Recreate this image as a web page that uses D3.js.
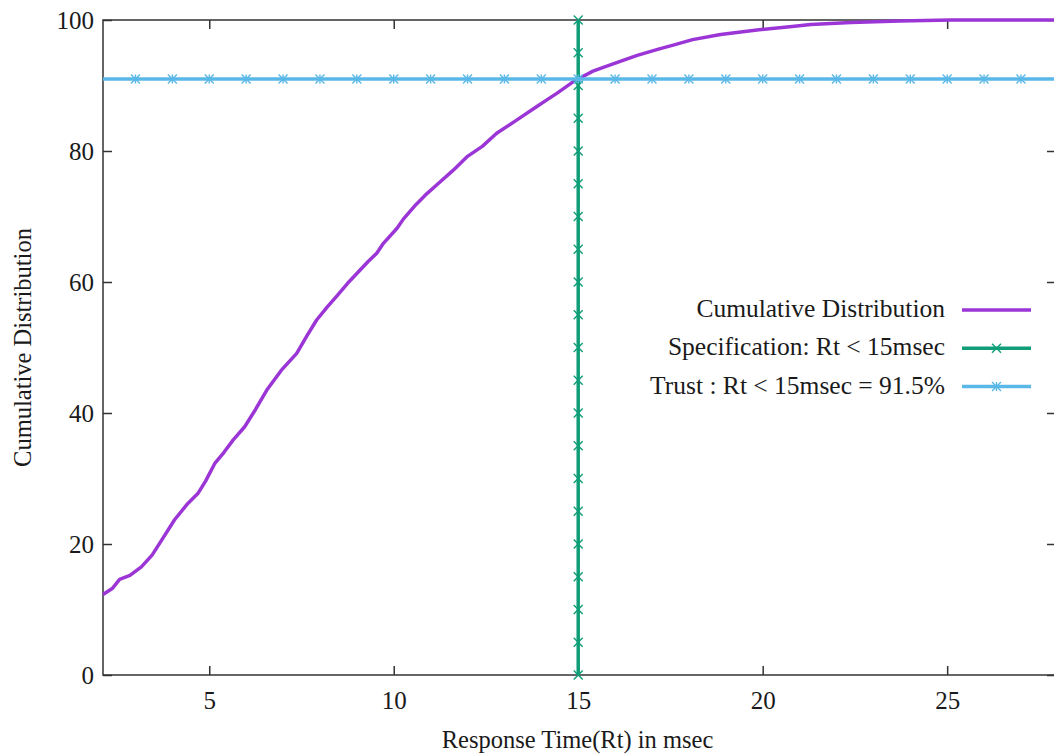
<!DOCTYPE html>
<meta charset="utf-8">
<style>
  body { margin: 0; background: #fff; }
  svg { display: block; font-family: "Liberation Serif", "DejaVu Serif", serif; }
  .tick text { font-size: 25px; fill: #1a1a1a; font-family: "Liberation Serif", serif; }
  .tick line { stroke: #333; stroke-width: 1.5; }
</style>
<body>
<div id="chart"></div>
<script src="https://d3js.org/d3.v7.min.js"></script>
<script>

// response time (msec) and cumulative share (%)
var rtMsec = [2.12, 2.37, 2.57, 2.85, 3.16, 3.45, 3.71, 4.06, 4.42, 4.69, 4.9, 5.15, 5.4,
  5.65, 5.96, 6.25, 6.56, 6.95, 7.37, 7.65, 7.91, 8.2, 8.45, 8.75, 9.0, 9.3, 9.54, 9.72,
  10.09, 10.26, 10.6, 10.9, 11.2, 11.6, 11.98, 12.4, 12.79, 13.3, 13.88, 14.15, 14.42,
  14.87, 15.1, 15.4, 15.7, 16.1, 16.6, 17.2, 17.6, 18.1, 18.86, 19.9, 20.8, 21.3, 22.4,
  23.7, 25.1, 27.95];
var cumPct = [12.3, 13.2, 14.6, 15.2, 16.5, 18.3, 20.6, 23.7, 26.2, 27.7, 29.6, 32.3, 34.0,
  35.9, 37.9, 40.5, 43.5, 46.5, 49.1, 51.8, 54.2, 56.2, 57.8, 59.8, 61.3, 63.1, 64.4, 65.9,
  68.2, 69.6, 71.8, 73.5, 75.0, 77.0, 79.1, 80.7, 82.7, 84.6, 86.8, 87.8, 88.8,
  90.6, 91.3, 92.2, 92.8, 93.6, 94.6, 95.6, 96.2, 97.0, 97.8, 98.5, 99.0, 99.3, 99.6,
  99.85, 100, 100];

var specRt = 15;                       // Rt < 15 msec
var specMarks = d3.range(0, 101, 5);   // points along the spec line
var trustPct = 91;                     // where the trust line sits
var trustMarks = d3.range(3, 28, 1);   // points along the trust line

var xDomain = [2.12, 27.95];
var yDomain = [0, 100];
var xTicks = [5, 10, 15, 20, 25];
var yTicks = [0, 20, 40, 60, 80, 100];

var legendLabels = ["Cumulative Distribution", "Specification: Rt < 15msec", "Trust : Rt < 15msec = 91.5%"];
var colors = ["#9b35d6", "#0f9e78", "#5ab8e8"];

var W = 1054, H = 756;
var margin = {top: 20, right: -2, bottom: 81, left: 103};
var width = W - margin.left - margin.right,
    height = H - margin.top - margin.bottom;

var svg = d3.select("#chart").append("svg")
    .attr("width", W)
    .attr("height", H)
  .append("g")
    .attr("transform", "translate(" + margin.left + "," + margin.top + ")");

var x = d3.scaleLinear().domain(xDomain).range([0, width]);
var y = d3.scaleLinear().domain(yDomain).range([height, 0]);

// axes, ticks pointing inward on all four sides
svg.append("g")
  .attr("transform", "translate(0," + height + ")")
  .call(d3.axisBottom(x).tickValues(xTicks).tickSize(-9).tickPadding(16))
  .select(".domain").remove();
svg.append("g")
  .call(d3.axisTop(x).tickValues(xTicks).tickSize(-9).tickFormat(""))
  .select(".domain").remove();
svg.append("g")
  .call(d3.axisLeft(y).tickValues(yTicks).tickSize(-9).tickPadding(9))
  .select(".domain").remove();
svg.append("g")
  .attr("transform", "translate(" + width + ",0)")
  .call(d3.axisRight(y).tickValues(yTicks).tickSize(-9).tickFormat(""))
  .select(".domain").remove();

svg.append("rect")
  .attr("width", width)
  .attr("height", height)
  .attr("fill", "none")
  .attr("stroke", "#333")
  .attr("stroke-width", 1.5);

// axis titles
svg.append("text")
  .attr("x", (x(xDomain[0]) + x(xDomain[1])) / 2 - 2)
  .attr("y", height + 73)
  .attr("text-anchor", "middle")
  .style("font-size", "24.5px")
  .style("fill", "#1a1a1a")
  .text("Response Time(Rt) in msec");

svg.append("text")
  .attr("transform", "translate(" + (-72) + "," + (height / 2) + ") rotate(-90)")
  .attr("text-anchor", "middle")
  .style("font-size", "24.5px")
  .style("fill", "#1a1a1a")
  .text("Cumulative Distribution");

// marker shapes: gnuplot style "x" and "*"
function cross(g, cx, cy, r, col) {
  g.append("path")
    .attr("d", "M" + (cx - r) + "," + (cy - r) + "L" + (cx + r) + "," + (cy + r) +
               "M" + (cx - r) + "," + (cy + r) + "L" + (cx + r) + "," + (cy - r))
    .attr("stroke", col).attr("stroke-width", 1.4).attr("fill", "none");
}
function star(g, cx, cy, r, col) {
  cross(g, cx, cy, r, col);
  g.append("path")
    .attr("d", "M" + (cx - r) + "," + cy + "L" + (cx + r) + "," + cy +
               "M" + cx + "," + (cy - r) + "L" + cx + "," + (cy + r))
    .attr("stroke", col).attr("stroke-width", 1.4).attr("fill", "none");
}

var plot = svg.append("g");

// cumulative curve
var curve = rtMsec.map(function(d, i) { return [d, cumPct[i]]; });
plot.append("path")
  .datum(curve)
  .attr("fill", "none")
  .attr("stroke", colors[0])
  .attr("stroke-width", 3.5)
  .attr("stroke-linejoin", "round")
  .attr("d", d3.line().x(function(d) { return x(d[0]); }).y(function(d) { return y(d[1]); }));

// specification line
plot.append("line")
  .attr("x1", x(specRt)).attr("x2", x(specRt))
  .attr("y1", y(0)).attr("y2", y(100))
  .attr("stroke", colors[1]).attr("stroke-width", 3.5);
specMarks.forEach(function(v) { cross(plot, x(specRt), y(v), 4.5, colors[1]); });

// trust line
plot.append("line")
  .attr("x1", 0).attr("x2", width)
  .attr("y1", y(trustPct)).attr("y2", y(trustPct))
  .attr("stroke", colors[2]).attr("stroke-width", 3.5);
trustMarks.forEach(function(v) { star(plot, x(v), y(trustPct), 4.5, colors[2]); });

// legend
var legend = svg.append("g").attr("transform", "translate(" + (945 - margin.left) + "," + (310 - margin.top) + ")");
legendLabels.forEach(function(lab, i) {
  var row = legend.append("g").attr("transform", "translate(0," + (i * 38.3) + ")");
  row.append("text")
    .attr("x", 0).attr("y", 7)
    .attr("text-anchor", "end")
    .style("font-size", "25.5px")
    .style("fill", "#1a1a1a")
    .text(lab);
  row.append("line")
    .attr("x1", 17).attr("x2", 86)
    .attr("stroke", colors[i]).attr("stroke-width", 3.5);
  if (i == 1) cross(row, 51.5, 0, 4.5, colors[i]);
  if (i == 2) star(row, 51.5, 0, 4.5, colors[i]);
});

</script>
</body>
